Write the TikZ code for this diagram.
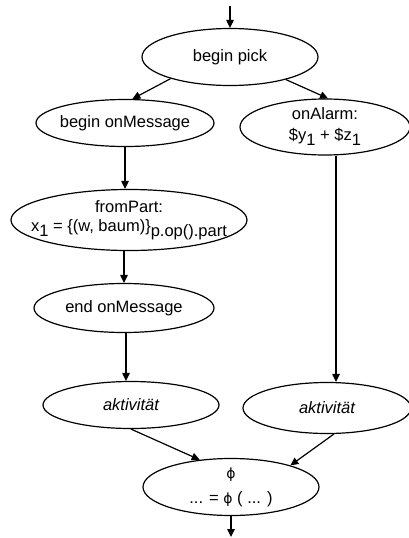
\documentclass[tikz,border=0pt]{standalone}
\usepackage{fontspec}
\setmainfont{Liberation Sans}
\newfontfamily\phifont{DejaVu Sans}
\usetikzlibrary{shapes.geometric,arrows.meta}
\newcommand\lowsub[1]{\raisebox{-5pt}{#1}}
\newcommand\phisym{{\phifont\fontsize{14}{16}\selectfont ϕ}}
\begin{document}
\begin{tikzpicture}[x=1pt,y=-1pt,
  el/.style={ellipse, draw, line width=1.2pt, inner xsep=-60pt, inner ysep=-40pt,
    align=center, font=\fontsize{16.5}{21}\selectfont},
  conn/.style={line width=1.2pt, -{Triangle[length=8pt,width=7.5pt]}}]
\useasboundingbox (0,0) rectangle (409,538);
\node[el, minimum width=176pt, minimum height=57pt] (bp) at (230,57) {begin pick};
\node[el, minimum width=178pt, minimum height=47pt] (bom) at (125,123) {begin onMessage};
\node[el, minimum width=170pt, minimum height=56pt] (oa) at (325,127) {onAlarm:\\\$y\lowsub{1} + \$z\lowsub{1}};
\node[el, minimum width=236pt, minimum height=61pt, font=\fontsize{16.5}{19}\selectfont] (fp) at (129,220) {fromPart:\\x\lowsub{1} = \{(w, baum)\}\lowsub{p.op().part}};
\node[el, minimum width=180pt, minimum height=49pt] (eom) at (124,308) {end onMessage};
\node[el, minimum width=176pt, minimum height=47pt] (akl) at (131,405) {\itshape aktivität};
\node[el, minimum width=168pt, minimum height=51pt] (akr) at (327,408) {\itshape aktivität};
\node[el, minimum width=176pt, minimum height=57pt] (phi) at (231,487) {\phisym\\[4pt]... = \phisym{} ( ... )};
\coordinate (top) at (230,6);
\coordinate (bot) at (231,537);
\draw[conn] (top) -- (bp.north);
\draw[conn] (bp.200) -- (bom.73);
\draw[conn] (bp.338) -- (oa.84);
\draw[conn] (bom.south) -- (bom.south |- fp.north);
\draw[conn] (eom.north |- fp.south) -- (eom.north);
\draw[conn] ([xshift=2pt]eom.south) -- ([xshift=2pt]eom.south |- akl.north);
\draw[conn] ([xshift=11pt]oa.south) -- ([xshift=11pt]oa.south |- akr.north);
\draw[conn] (akl.south) -- (phi.139);
\draw[conn] (akr.-75) -- (phi.20);
\draw[conn] (phi.south) -- (bot);
\end{tikzpicture}
\end{document}
